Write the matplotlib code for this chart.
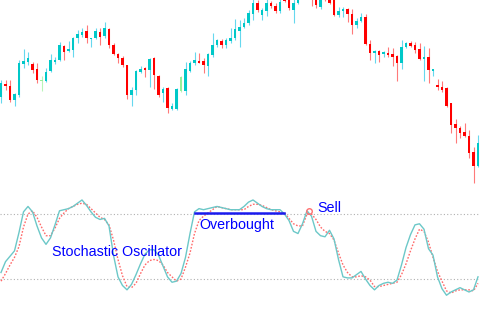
import numpy as np
import matplotlib.pyplot as plt

plt.rcParams['font.family'] = ['Liberation Sans', 'DejaVu Sans']

# price candles (arbitrary price units)
opens = [103, 116, 114, 100, 105, 136, 138, 136, 131, 119, 119, 129, 138, 140, 154, 149, 150, 162, 165, 169,
         161, 162, 168, 164, 171, 155, 146, 142, 135, 105, 110, 128, 132, 130, 142, 124, 107, 112, 91, 91,
         109, 109, 129, 137, 139, 139, 134, 145, 155, 159, 155, 159, 162, 169, 173, 177, 186, 197, 185, 189,
         197, 194, 189, 205, 203, 190, 197, 205, 214, 208, 203, 193, 206, 204, 202, 185, 189, 191, 186, 175,
         179, 183, 156, 147, 149, 146, 147, 146, 144, 137, 153, 157, 155, 151, 141, 143, 129, 115, 113, 112,
         97, 76, 72, 68, 64, 48, 34]
closes = [117, 114, 100, 106, 137, 139, 142, 130, 120, 120, 128, 140, 140, 155, 148, 151, 162, 166, 168, 162,
          162, 169, 163, 172, 155, 146, 142, 135, 105, 110, 129, 131, 130, 141, 125, 105, 111, 92, 94, 111,
          123, 131, 137, 140, 137, 135, 146, 155, 160, 155, 160, 162, 171, 173, 177, 187, 197, 190, 190, 197,
          194, 189, 198, 199, 192, 197, 205, 215, 206, 201, 195, 203, 201, 197, 185, 189, 191, 186, 175, 179,
          183, 156, 147, 149, 145, 148, 145, 143, 137, 153, 157, 154, 150, 141, 143, 130, 131, 113, 110, 94,
          75, 72, 67, 64, 47, 34, 57]
highs = [120, 120, 120, 107, 140, 151, 148, 138, 137, 124, 132, 146, 143, 158, 155, 159, 163, 170, 172, 175,
         162, 172, 172, 178, 172, 157, 147, 144, 135, 113, 130, 134, 133, 142, 143, 125, 113, 113, 97, 112,
         124, 138, 139, 148, 147, 142, 147, 167, 161, 161, 162, 172, 181, 180, 182, 190, 202, 200, 192, 202,
         199, 197, 201, 208, 205, 203, 208, 218, 218, 212, 205, 205, 209, 206, 204, 193, 193, 192, 191, 182,
         187, 186, 160, 150, 150, 149, 153, 152, 145, 160, 158, 159, 158, 157, 154, 152, 131, 121, 119, 113,
         97, 81, 74, 77, 70, 53, 65]
lows = [97, 110, 98, 94, 103, 132, 135, 127, 117, 109, 118, 128, 136, 139, 140, 148, 143, 157, 163, 157,
        153, 161, 155, 162, 152, 145, 137, 133, 101, 94, 105, 127, 123, 113, 111, 103, 98, 87, 90, 90,
        108, 105, 128, 135, 137, 127, 124, 143, 153, 152, 152, 157, 160, 153, 172, 175, 180, 188, 180, 184,
        192, 187, 187, 198, 190, 177, 196, 202, 203, 194, 192, 191, 199, 196, 184, 183, 183, 178, 166, 172,
        178, 155, 140, 137, 138, 143, 143, 134, 119, 131, 152, 153, 147, 140, 119, 117, 124, 110, 108, 93,
        67, 57, 62, 63, 42, 17, 33]
green_candles = [9, 40]

# stochastic oscillator
stoch_k = [26, 36, 41, 46, 63, 82, 87, 82, 69, 58, 52, 58, 70, 83, 84, 85, 87, 90, 93, 88,
           82, 77, 75, 76, 69, 42, 22, 14, 10, 15, 24, 34, 43, 47, 47, 42, 32, 22, 17, 18,
           25, 40, 62, 82, 85, 84, 85, 86, 87, 86, 85, 84, 84, 84, 87, 91, 93, 90, 87, 85,
           84, 84, 84, 80, 74, 64, 62, 71, 83, 78, 64, 60, 59, 65, 57, 38, 22, 21, 21, 24,
           27, 20, 14, 10, 14, 16, 17, 16, 19, 33, 49, 61, 70, 71, 66, 48, 42, 22, 11, 5,
           8, 10, 12, 10, 8, 10, 22]
stoch_d = [18, 25, 33, 40, 50, 68, 80, 83, 77, 68, 60, 60, 67, 76, 81, 85, 87, 89, 90, 89,
           85, 81, 77, 75, 70, 56, 38, 23, 13, 12, 16, 25, 33, 37, 38, 37, 33, 26, 22, 18,
           20, 31, 44, 62, 74, 78, 81, 84, 87, 86, 85, 84, 84, 84, 84, 87, 89, 89, 88, 86,
           84, 83, 82, 81, 76, 71, 69, 69, 80, 80, 75, 68, 64, 62, 56, 44, 33, 26, 22, 22,
           23, 22, 19, 13, 13, 14, 15, 16, 17, 24, 34, 46, 57, 66, 64, 54, 40, 27, 18, 9,
           7, 9, 10, 10, 10, 9, 16]
overbought, oversold = 80, 20
ob_span = (43.1, 62.9)
sell_idx, sell_val = 68.4, 83

W, H = 480, 313
fig = plt.figure(figsize=(4.8, 3.13), dpi=100)
ax = fig.add_axes([0, (H - 195) / H, 1, 195 / H])
ax2 = fig.add_axes([0, 0, 1, 123 / H])
xl = (-1 / 4.5, 479 / 4.5)

x = np.arange(len(opens))
o = np.array(opens)
c = np.array(closes)
up = c >= o
body_col = np.where(up, '#00c8c8', '#ff0000').astype(object)
wick_col = np.where(up, '#66d8ee', '#ff7a7a').astype(object)
for i in green_candles:
    body_col[i] = '#99ee99'
    wick_col[i] = '#b8f5b8'

ax.vlines(x, lows, highs, colors=list(wick_col), linewidth=0.8, zorder=1)
bottoms = np.minimum(o, c)
heights = np.maximum(np.abs(c - o), 1)
ax.bar(x, heights, bottom=bottoms, width=0.66, color=list(body_col), linewidth=0, zorder=2)
ax.set_xlim(*xl)
ax.set_ylim(5, 200)
ax.axis('off')

# oscillator panel
ax2.axhline(overbought, color='#b0b0b0', linestyle=(0, (1, 2)), linewidth=0.8)
ax2.axhline(oversold, color='#b0b0b0', linestyle=(0, (1, 2)), linewidth=0.8)
ax2.plot(x, stoch_d, color='#ff6a6a', linestyle=(0, (1.2, 1.2)), linewidth=1.0)
ax2.plot(x, stoch_k, color='#6cc8c8', linewidth=1.0)
ax2.plot(list(ob_span), [80.6, 80.6], color='#1a1aee', linewidth=1.8)
ax2.plot([sell_idx], [sell_val], marker='o', markersize=4, markerfacecolor='none',
         markeredgecolor='#ff7070', markeredgewidth=1)
ax2.text(11.3, 41.2, 'Stochastic Oscillator', color='#0000ff', fontsize=10.3, va='baseline')
ax2.text(44.1, 66.2, 'Overbought', color='#0000ff', fontsize=10.3, va='baseline')
ax2.text(70.2, 81.6, 'Sell', color='#0000ff', fontsize=10.3, va='baseline')
ax2.set_xlim(*xl)
ax2.set_ylim(-11.4, 102.2)
ax2.axis('off')
ax2.patch.set_alpha(0)

fig.savefig('out.png', dpi=100)
